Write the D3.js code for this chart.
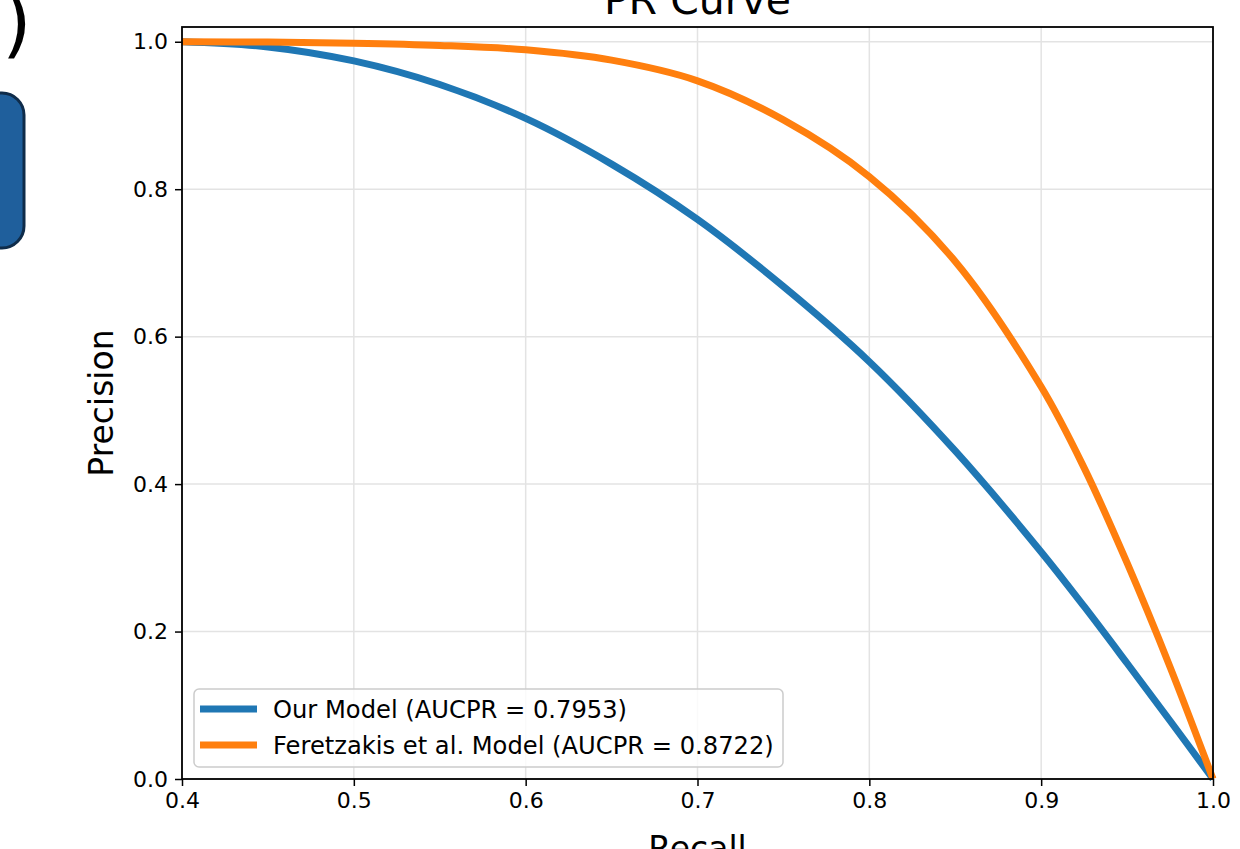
<!DOCTYPE html>
<html>
<head>
<meta charset="utf-8">
<script src="https://cdn.jsdelivr.net/npm/d3@7"></script>
<style>
  html, body { margin: 0; padding: 0; background: #fff; }
  svg { display: block; font-family: "DejaVu Sans", sans-serif; }
</style>
</head>
<body>
<div class="svg-container"></div>
<script>
// values
var recall = [0.40, 0.45, 0.50, 0.55, 0.60, 0.65, 0.70, 0.75, 0.80, 0.85, 0.90, 0.925, 0.95, 0.975, 1.00];
var ourPrecision = [1.000, 0.993, 0.974, 0.942, 0.896, 0.834, 0.759, 0.668, 0.566, 0.445, 0.308, 0.234, 0.157, 0.079, 0.000];
var feretzakisPrecision = [1.000, 0.9995, 0.998, 0.995, 0.989, 0.975, 0.947, 0.894, 0.817, 0.702, 0.532, 0.422, 0.293, 0.152, 0.000];
var seriesNames = ["Our Model (AUCPR = 0.7953)", "Feretzakis et al. Model (AUCPR = 0.8722)"];
var seriesColors = ["#1f77b4", "#ff7f0e"];
var xTicks = [0.4, 0.5, 0.6, 0.7, 0.8, 0.9, 1.0];
var yTicks = [0.0, 0.2, 0.4, 0.6, 0.8, 1.0];

var width = 1240, height = 849;
var plotLeft = 182, plotRight = 1213, plotTop = 27, plotBottom = 779;

var svg = d3.select('.svg-container').append('svg')
  .attr('width', width)
  .attr('height', height);

svg.append('rect').attr('width', width).attr('height', height).attr('fill', '#fff');

// bits of the neighbouring figure that got cropped in
svg.append('text')
  .attr('x', 2).attr('y', 48)
  .attr('font-size', 76)
  .attr('fill', '#000')
  .text(')');
svg.append('rect')
  .attr('x', -40).attr('y', 93)
  .attr('width', 64).attr('height', 155)
  .attr('rx', 22)
  .attr('fill', '#1f5f9c')
  .attr('stroke', '#0f2c4a')
  .attr('stroke-width', 3);

var x = d3.scaleLinear().domain([0.4, 1.0]).range([plotLeft, plotRight]);
var y = d3.scaleLinear().domain([0, 1.02]).range([plotBottom, plotTop]);

// grid
svg.append('g').selectAll('line').data(xTicks).enter().append('line')
  .attr('x1', function(d) { return x(d); })
  .attr('x2', function(d) { return x(d); })
  .attr('y1', plotTop).attr('y2', plotBottom)
  .attr('stroke', '#e3e3e3').attr('stroke-width', 1.5);
svg.append('g').selectAll('line').data(yTicks).enter().append('line')
  .attr('y1', function(d) { return y(d); })
  .attr('y2', function(d) { return y(d); })
  .attr('x1', plotLeft).attr('x2', plotRight)
  .attr('stroke', '#e3e3e3').attr('stroke-width', 1.5);

// curves
var line = d3.line()
  .x(function(d) { return x(d[0]); })
  .y(function(d) { return y(d[1]); })
  .curve(d3.curveCatmullRom.alpha(0.5));

var series = [ourPrecision, feretzakisPrecision];
svg.append('g').selectAll('path').data(series).enter().append('path')
  .attr('d', function(d) { return line(recall.map(function(r, i) { return [r, d[i]]; })); })
  .attr('fill', 'none')
  .attr('stroke', function(d, i) { return seriesColors[i]; })
  .attr('stroke-width', 7)
  .attr('stroke-linecap', 'butt');

// axes
var xAxis = d3.axisBottom(x).tickValues(xTicks).tickFormat(d3.format('.1f')).tickSize(7).tickPadding(6);
var yAxis = d3.axisLeft(y).tickValues(yTicks).tickFormat(d3.format('.1f')).tickSize(7).tickPadding(7);

var gx = svg.append('g').attr('transform', 'translate(0,' + plotBottom + ')').call(xAxis);
var gy = svg.append('g').attr('transform', 'translate(' + plotLeft + ',0)').call(yAxis);
[gx, gy].forEach(function(g) {
  g.select('.domain').remove();
  g.selectAll('.tick line').attr('stroke', '#000').attr('stroke-width', 1.5);
  g.selectAll('.tick text').attr('font-size', 22).attr('fill', '#000')
    .attr('font-family', '"DejaVu Sans", sans-serif');
});

// frame
svg.append('rect')
  .attr('x', plotLeft).attr('y', plotTop)
  .attr('width', plotRight - plotLeft).attr('height', plotBottom - plotTop)
  .attr('fill', 'none').attr('stroke', '#000').attr('stroke-width', 1.8);

// labels
svg.append('text')
  .attr('x', (plotLeft + plotRight) / 2).attr('y', 14)
  .attr('text-anchor', 'middle')
  .attr('font-size', 41)
  .text('PR Curve');
svg.append('text')
  .attr('x', (plotLeft + plotRight) / 2).attr('y', 860)
  .attr('text-anchor', 'middle')
  .attr('font-size', 33)
  .text('Recall');
svg.append('text')
  .attr('transform', 'translate(113,' + ((plotTop + plotBottom) / 2) + ') rotate(-90)')
  .attr('text-anchor', 'middle')
  .attr('font-size', 33)
  .text('Precision');

// legend
var legend = svg.append('g');
legend.append('rect')
  .attr('x', 194).attr('y', 689)
  .attr('width', 589).attr('height', 78)
  .attr('rx', 5)
  .attr('fill', '#fff').attr('fill-opacity', 0.8)
  .attr('stroke', '#cccccc').attr('stroke-width', 1.5);

var rows = legend.selectAll('g.row').data(seriesNames).enter().append('g')
  .attr('transform', function(d, i) { return 'translate(200,' + (709 + i * 36) + ')'; });
rows.append('line')
  .attr('x1', 0).attr('x2', 57)
  .attr('stroke', function(d, i) { return seriesColors[i]; })
  .attr('stroke-width', 7);
rows.append('text')
  .attr('x', 73).attr('y', 8.5)
  .attr('font-size', 24.2)
  .text(function(d) { return d; });
</script>
</body>
</html>
